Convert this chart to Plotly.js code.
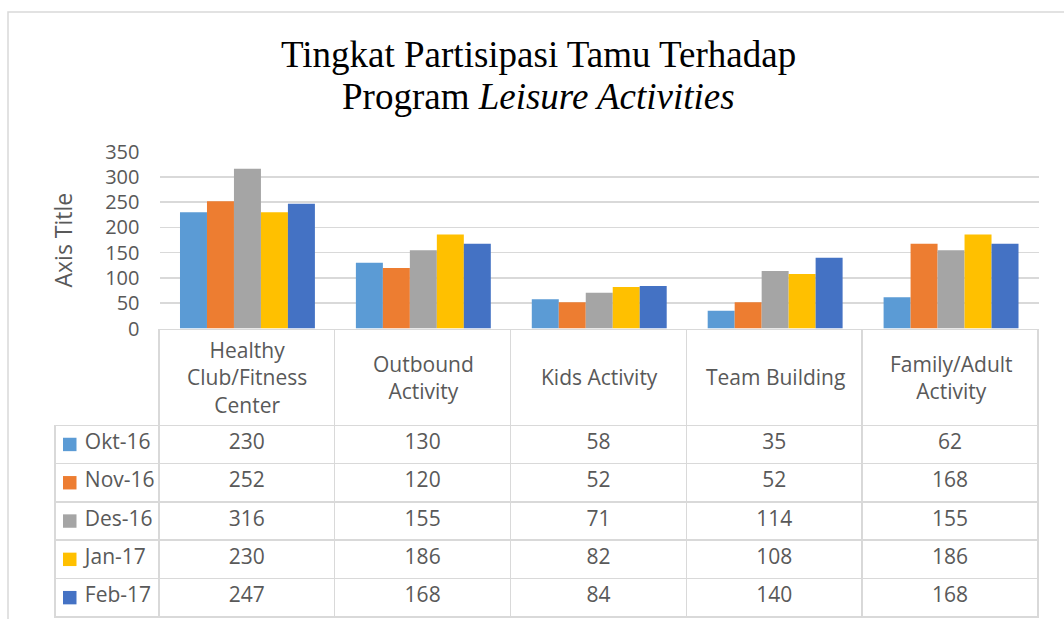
<!DOCTYPE html>
<html>
<head>
<meta charset="utf-8">
<script src="https://cdn.plot.ly/plotly-3.0.1.min.js"></script>
<style>html,body{margin:0;padding:0;background:#fff;}#chart{width:1064px;height:619px;}</style>
</head>
<body>
<div id="chart"></div>
<script>
const categories = ["Healthy Club/Fitness Center", "Outbound Activity", "Kids Activity", "Team Building", "Family/Adult Activity"];
const headerLabels = ["Healthy<br>Club/Fitness<br>Center", "Outbound<br>Activity", "Kids Activity", "Team Building", "Family/Adult<br>Activity"];
const seriesNames = ["Okt-16", "Nov-16", "Des-16", "Jan-17", "Feb-17"];
const okt16 = [230, 130, 58, 35, 62];
const nov16 = [252, 120, 52, 52, 168];
const des16 = [316, 155, 71, 114, 155];
const jan17 = [230, 186, 82, 108, 186];
const feb17 = [247, 168, 84, 140, 168];
const seriesColors = ["#5B9BD5", "#ED7D31", "#A5A5A5", "#FFC000", "#4472C4"];

const W = 1064, H = 619;
const allSeries = [okt16, nov16, des16, jan17, feb17];
const textColor = "#595959";
const gridColor = "#D9D9D9";
const fontFam = "Open Sans, sans-serif";
const tableTop = 329.3, headerH = 96, rowH = 38.3, tableLeft = 55, tableRight = 1038;

const traces = allSeries.map((vals, i) => ({
  type: "bar",
  name: seriesNames[i],
  x: categories,
  y: vals,
  marker: {color: seriesColors[i], line: {width: 0}},
  showlegend: false
}));

// data table (body rows) drawn as a table trace
const firstCol = seriesNames.map(n => "\u00A0\u00A0\u00A0\u00A0" + n);
const tableCols = [firstCol];
for (let c = 0; c < categories.length; c++) {
  tableCols.push(allSeries.map(s => String(s[c])));
}
traces.push({
  type: "table",
  domain: {x: [tableLeft / W, tableRight / W], y: [0, 1 - tableTop / H]},
  columnwidth: [104, 176, 176, 176, 176, 176],
  header: {
    values: ["", "", "", "", "", ""],
    height: headerH,
    line: {color: ["rgba(0,0,0,0)", gridColor, gridColor, gridColor, gridColor, gridColor], width: 1.5},
    fill: {color: "rgba(0,0,0,0)"},
    font: {family: fontFam, size: 21, color: textColor}
  },
  cells: {
    values: tableCols,
    height: rowH,
    align: ["left", "center", "center", "center", "center", "center"],
    line: {color: gridColor, width: 1.5},
    fill: {color: "rgba(0,0,0,0)"},
    font: {family: fontFam, size: 21, color: textColor}
  }
});

const annotations = headerLabels.map((lab, i) => ({
  xref: "x", yref: "paper",
  x: categories[i], y: 1 - (tableTop + headerH / 2) / H,
  xanchor: "center", yanchor: "middle",
  text: lab, showarrow: false,
  font: {family: fontFam, size: 21, color: textColor}
}));
annotations.push({
  xref: "paper", yref: "paper", x: 0.506, y: 1 - 55 / H, xanchor: "center", yanchor: "middle",
  text: "Tingkat Partisipasi Tamu Terhadap", showarrow: false,
  font: {family: "Liberation Serif, serif", size: 37, color: "#000"}
});
annotations.push({
  xref: "paper", yref: "paper", x: 0.506, y: 1 - 97 / H, xanchor: "center", yanchor: "middle",
  text: "Program <i>Leisure Activities</i>", showarrow: false,
  font: {family: "Liberation Serif, serif", size: 37, color: "#000"}
});

// legend keys in the first table column
const shapes = [{
  type: "rect", xref: "paper", yref: "paper",
  x0: 8 / W, x1: 1.02, y0: -0.02, y1: 1 - 12 / H,
  line: {color: gridColor, width: 1.5}, fillcolor: "rgba(0,0,0,0)", layer: "below"
}];
seriesColors.forEach((col, i) => {
  const cy = tableTop + headerH + rowH * (i + 0.5);
  shapes.push({
    type: "rect", xref: "paper", yref: "paper",
    x0: (tableLeft + 8) / W, x1: (tableLeft + 21.5) / W,
    y0: 1 - (cy + 6.7) / H, y1: 1 - (cy - 6.7) / H,
    line: {width: 0}, fillcolor: col, layer: "above"
  });
});

const layout = {
  width: W, height: H,
  margin: {l: 0, r: 0, t: 0, b: 0},
  paper_bgcolor: "#fff", plot_bgcolor: "#fff",
  barmode: "group", bargap: 0.233, bargroupgap: 0,
  xaxis: {
    domain: [159.5 / W, 1039 / W],
    showticklabels: false, showgrid: false, zeroline: false, showline: false, ticks: "",
    fixedrange: true
  },
  yaxis: {
    domain: [1 - 328.5 / H, 1 - 151.7 / H],
    range: [0, 350], dtick: 50, tick0: 0,
    showgrid: true, gridcolor: gridColor, gridwidth: 1.5,
    zeroline: false, showline: false, ticks: "",
    ticklabelstandoff: 19,
    tickfont: {family: fontFam, size: 20, color: textColor},
    title: {text: "Axis Title", standoff: 26, font: {family: fontFam, size: 23, color: textColor}},
    fixedrange: true
  },
  annotations: annotations,
  shapes: shapes
};

Plotly.newPlot("chart", traces, layout, {staticPlot: true, displayModeBar: false});
</script>
</body>
</html>
